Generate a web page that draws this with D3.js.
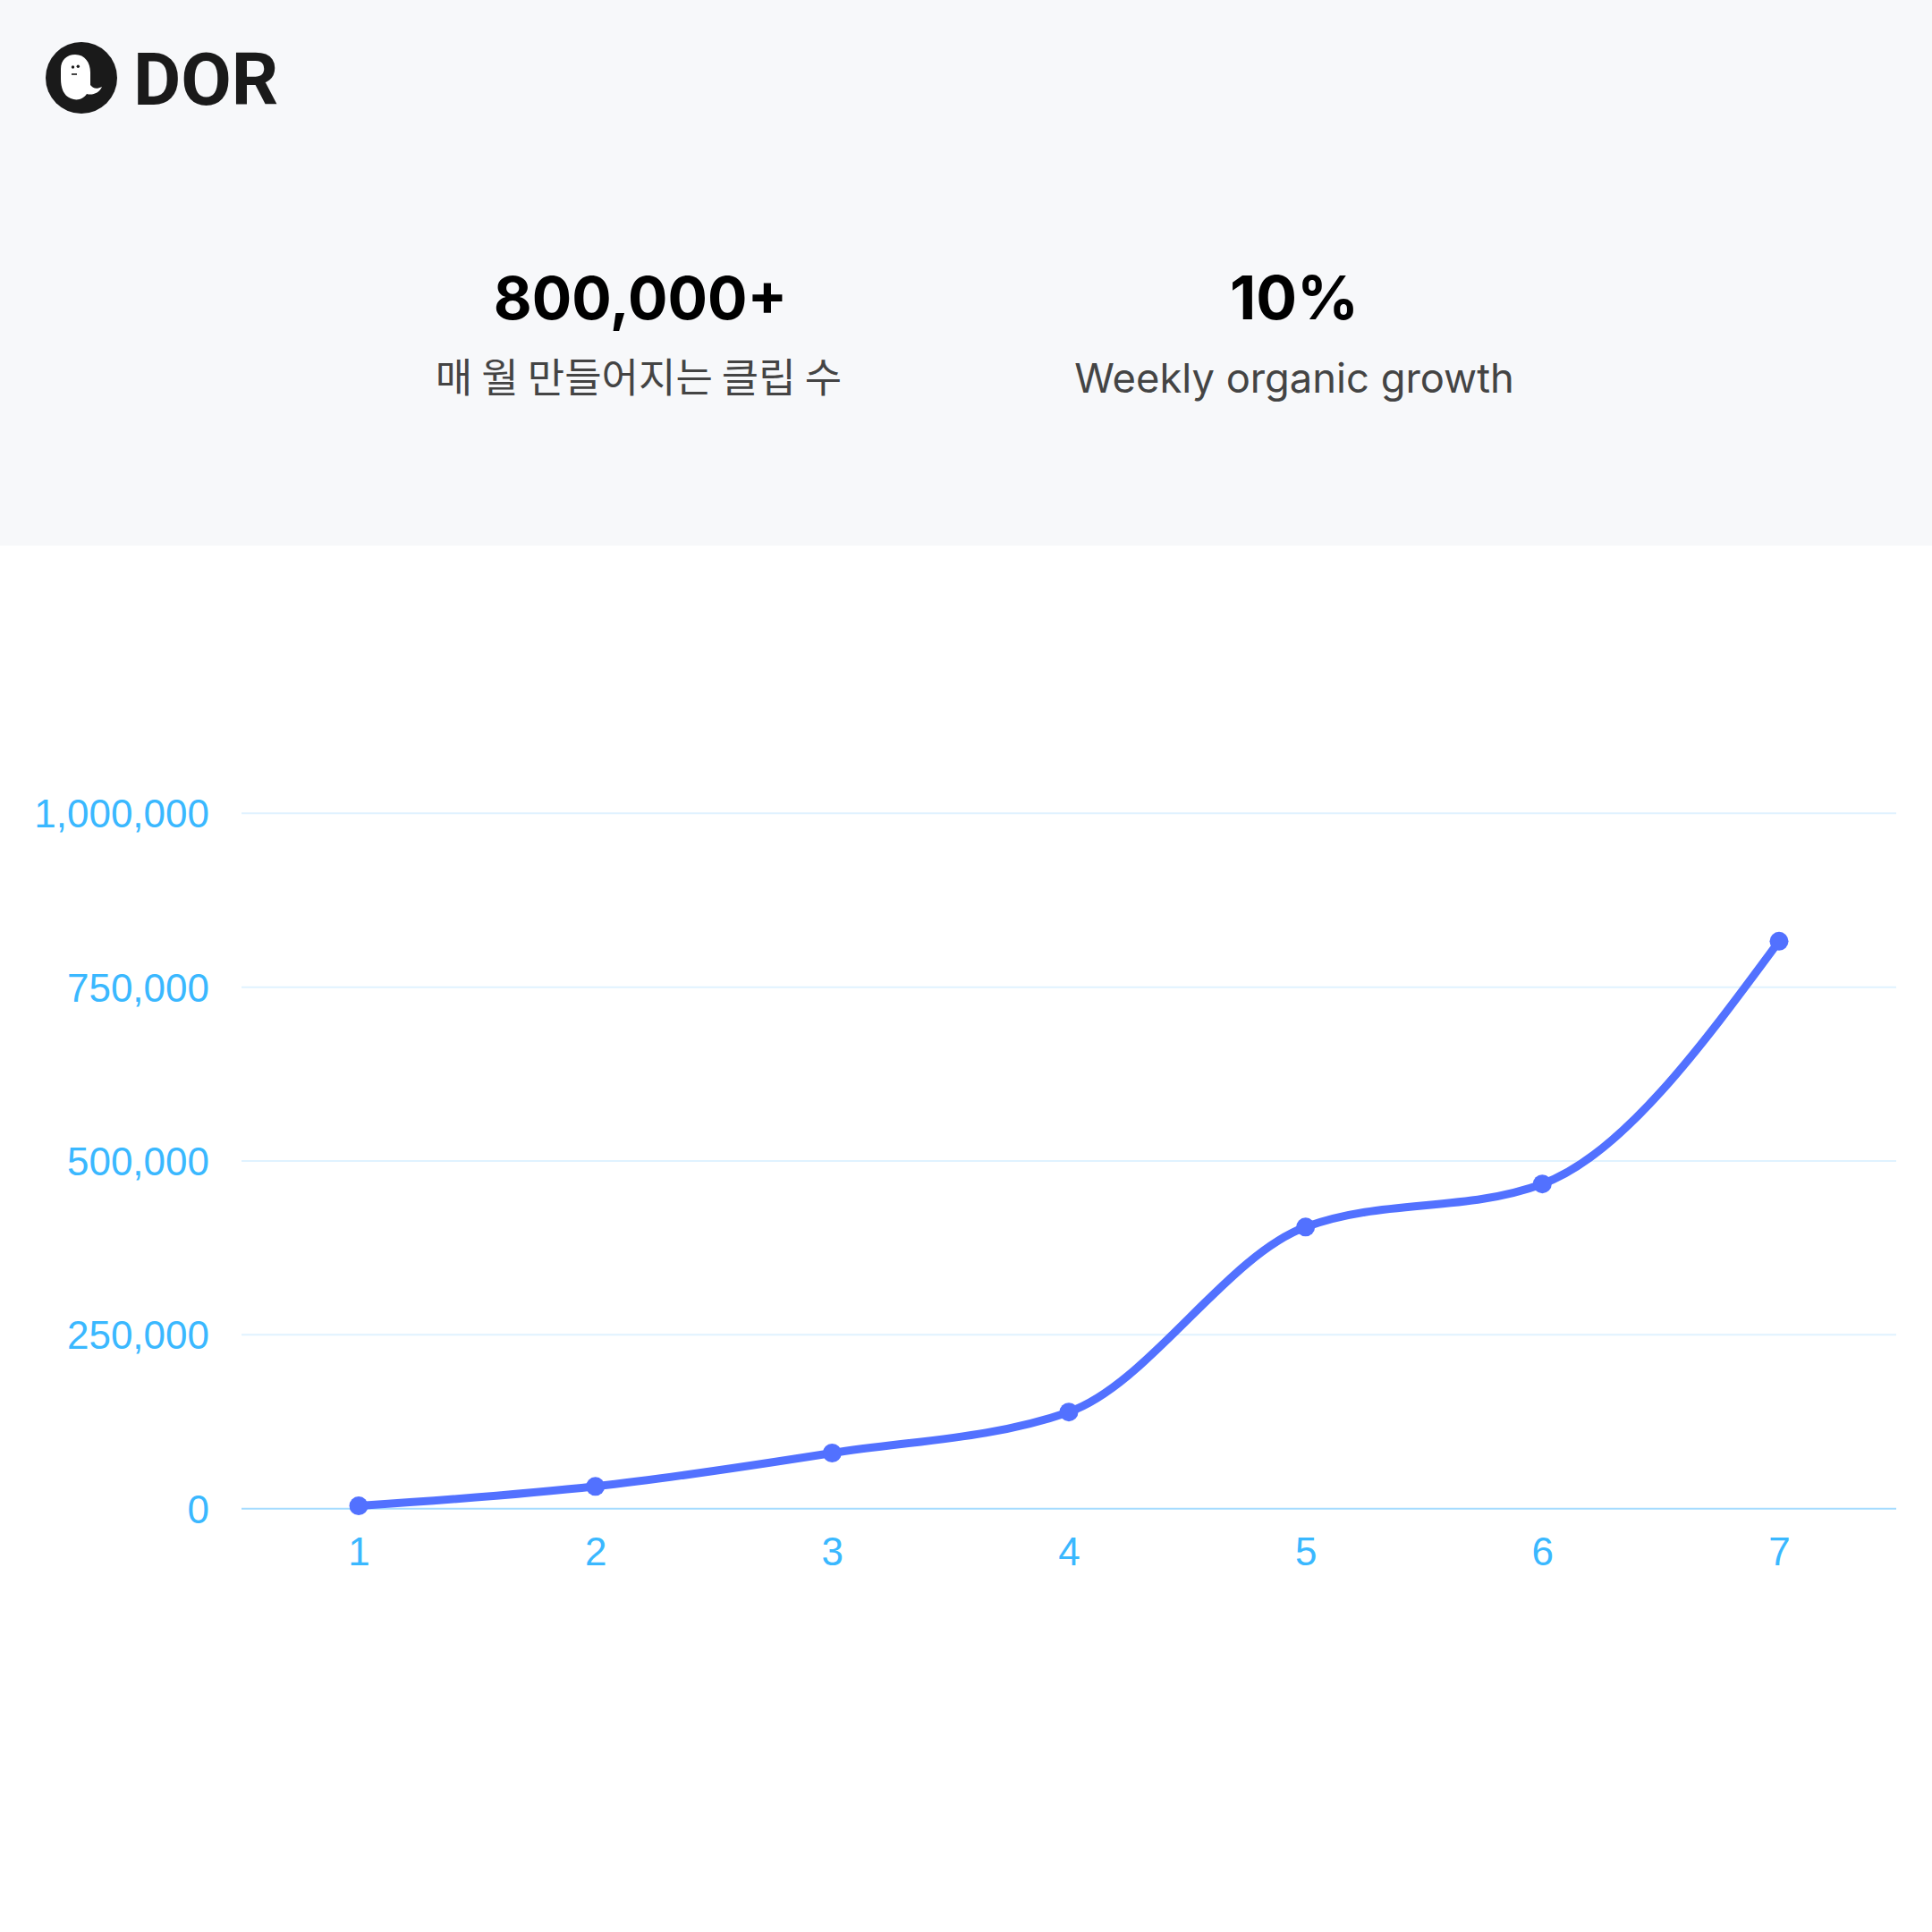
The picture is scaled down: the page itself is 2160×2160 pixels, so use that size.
<!DOCTYPE html>
<html>
<head>
<meta charset="utf-8">
<script src="https://cdn.jsdelivr.net/npm/d3@7"></script>
<style>
  html, body { margin: 0; padding: 0; background: #ffffff; }
  svg { display: block; }
</style>
</head>
<body>
<svg id="chart" width="2160" height="2160"></svg>
<script>
// ---- data ----
const weeks = ["1", "2", "3", "4", "5", "6", "7"];
const clips = [4000, 32000, 80000, 139000, 405000, 467000, 816000];
const yTicks = [0, 250000, 500000, 750000, 1000000];
const statValues = ["800,000+", "10%"];
const statLabels = ["매 월 만들어지는 클립 수", "Weekly organic growth"];
const brand = "DOR";

const svg = d3.select("#chart");
const W = 2160;

// ---- header band ----
svg.append("rect").attr("x", 0).attr("y", 0).attr("width", W).attr("height", 610).attr("fill", "#f7f8fa");

// logo
const logo = svg.append("g");
logo.append("circle").attr("cx", 91).attr("cy", 87).attr("r", 40).attr("fill", "#1a1a1a");
logo.append("path")
  .attr("d", "M84 61 C95 61 101 70 101 81 L101 95 C104 99 108 100 114 97 C111 104 103 107 97 105 C93 111 86 113 79 110 C71 107 68 98 68 88 L68 77 C68 67 75 61 84 61 Z")
  .attr("fill", "#ffffff");
logo.append("circle").attr("cx", 81.5).attr("cy", 75).attr("r", 1.7).attr("fill", "#1a1a1a");
logo.append("circle").attr("cx", 87.3).attr("cy", 74.3).attr("r", 1.7).attr("fill", "#1a1a1a");
logo.append("line").attr("x1", 80).attr("x2", 86).attr("y1", 83).attr("y2", 83)
  .attr("stroke", "#1a1a1a").attr("stroke-width", 1.6);
svg.append("text").attr("x", 149).attr("y", 117).text(brand)
  .attr("font-family", "Roboto, 'Noto Sans', sans-serif").attr("font-weight", 700)
  .attr("font-size", 82).attr("fill", "#1a1a1a");

// stats
const statX = [716, 1447];
const stats = svg.append("g");
statValues.forEach((v, i) => {
  stats.append("text").attr("x", statX[i]).attr("y", 357).attr("text-anchor", "middle")
    .attr("font-family", "Inter, 'Noto Sans', sans-serif").attr("font-weight", 700)
    .attr("font-size", i === 0 ? 66 : 68).attr("fill", "#000").text(v);
  stats.append("text").attr("x", i === 0 ? 714 : 1447).attr("y", 439).attr("text-anchor", "middle")
    .attr("font-family", i === 0 ? "'Noto Sans CJK KR', Inter, sans-serif" : "Inter, 'Noto Sans', sans-serif")
    .attr("font-weight", 400)
    .attr("font-size", i === 0 ? 45 : 45.3).attr("fill", "#444444").text(statLabels[i]);
});

// ---- chart ----
const x = d3.scalePoint().domain(weeks).range([401, 1989]);
const y = d3.scaleLinear().domain([0, 1000000]).range([1686.7, 909.3]);
const gridX0 = 270, gridX1 = 2120;

// gridlines
svg.append("g").selectAll("line").data(yTicks).join("line")
  .attr("x1", gridX0).attr("x2", gridX1)
  .attr("y1", d => y(d)).attr("y2", d => y(d))
  .attr("stroke", d => d === 0 ? "#a6dcff" : "#e0f2ff")
  .attr("stroke-width", 2);

// y axis labels
const yAxis = d3.axisLeft(y).tickValues(yTicks).tickFormat(d3.format(",")).tickSize(0).tickPadding(0);
const gy = svg.append("g").attr("transform", "translate(234,0)").call(yAxis);
gy.select(".domain").remove();
gy.selectAll("text").attr("font-family", "'Liberation Sans', Arial, Helvetica, sans-serif")
  .attr("font-size", 44).attr("fill", "#3ab8ff").attr("dy", "0.35em");

// x axis labels
const xAxis = d3.axisBottom(x).tickSize(0).tickPadding(0);
const gx = svg.append("g").attr("transform", "translate(0,1750)").call(xAxis);
gx.select(".domain").remove();
gx.selectAll("text").attr("font-family", "'Liberation Sans', Arial, Helvetica, sans-serif")
  .attr("font-size", 44).attr("fill", "#3ab8ff").attr("dy", 0).attr("y", 0);

const series = weeks.map((w, i) => ({ w, v: clips[i] }));
const line = d3.line().x(d => x(d.w)).y(d => y(d.v)).curve(d3.curveMonotoneX);

svg.append("path").datum(series).attr("d", line)
  .attr("fill", "none").attr("stroke", "#5271ff").attr("stroke-width", 9)
  .attr("stroke-linecap", "round").attr("stroke-linejoin", "round");

svg.append("g").selectAll("circle").data(series).join("circle")
  .attr("cx", d => x(d.w)).attr("cy", d => y(d.v)).attr("r", 10.5)
  .attr("fill", "#5271ff");
</script>
</body>
</html>
